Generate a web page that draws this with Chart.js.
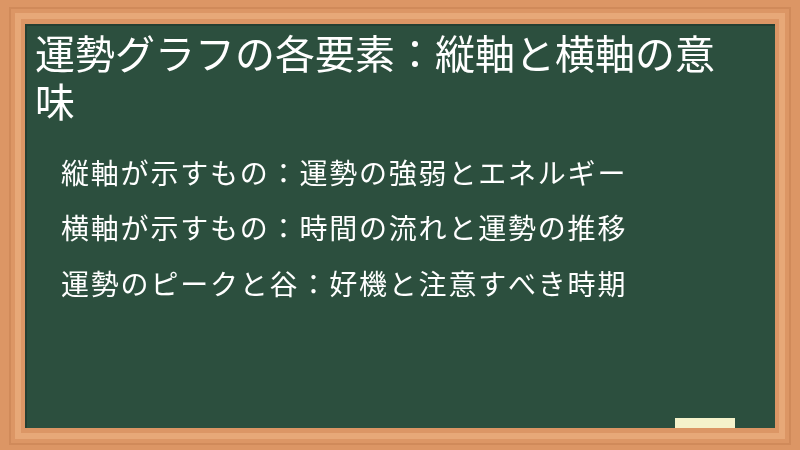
<!DOCTYPE html>
<html>
<head>
<meta charset="utf-8">
<script src="https://cdn.jsdelivr.net/npm/chart.js@4/dist/chart.umd.min.js"></script>
<style>
  html, body { margin: 0; padding: 0; background: #dc9665; }
  #wrap { width: 800px; height: 450px; }
</style>
</head>
<body>
<div id="wrap"><canvas id="board"></canvas></div>
<script>
const titleLines = ["運勢グラフの各要素：縦軸と横軸の意", "味"];
const bulletLines = [
  "縦軸が示すもの：運勢の強弱とエネルギー",
  "横軸が示すもの：時間の流れと運勢の推移",
  "運勢のピークと谷：好機と注意すべき時期"
];

const FONT = "'Noto Sans CJK JP', 'Noto Sans', sans-serif";

// chalkboard frame + board + the list of points
const boardPlugin = {
  id: 'boardPlugin',
  beforeDraw(chart) {
    const ctx = chart.ctx;
    const W = chart.width, H = chart.height;
    ctx.save();
    // wooden frame
    ctx.fillStyle = '#dc9665';
    ctx.fillRect(0, 0, W, H);
    ctx.strokeStyle = '#e7a878';
    ctx.lineWidth = 6;
    ctx.strokeRect(18, 16, W - 36, H - 30);
    ctx.strokeStyle = '#d08a5a';
    ctx.lineWidth = 2;
    ctx.strokeRect(10, 8, W - 20, H - 14);
    // board
    ctx.fillStyle = '#2c4f3e';
    ctx.fillRect(26, 24, 749, 404);
    ctx.strokeStyle = '#243f32';
    ctx.lineWidth = 2;
    ctx.beginPath();
    ctx.moveTo(26, 428); ctx.lineTo(26, 25); ctx.lineTo(775, 25);
    ctx.stroke();
    // chalk
    ctx.fillStyle = '#f5f2cb';
    ctx.fillRect(675, 418, 60, 10);
    ctx.restore();
  },
  afterDraw(chart) {
    const ctx = chart.ctx;
    ctx.save();
    ctx.fillStyle = '#ffffff';
    ctx.font = '28px ' + FONT;
    ctx.letterSpacing = '1.8px';
    ctx.textBaseline = 'middle';
    ctx.textAlign = 'left';
    bulletLines.forEach((t, i) => {
      ctx.fillText(t, 61, 173 + i * 55.5);
    });
    ctx.restore();
  }
};

new Chart(document.getElementById('board'), {
  type: 'bar',
  data: { labels: [], datasets: [{ data: [] }] },
  options: {
    responsive: true,
    maintainAspectRatio: false,
    animation: false,
    layout: { padding: { top: 24, left: 35, right: 20, bottom: 24 } },
    scales: { x: { display: false }, y: { display: false } },
    plugins: {
      legend: { display: false },
      tooltip: { enabled: false },
      title: {
        display: true,
        text: titleLines,
        align: 'start',
        color: '#ffffff',
        font: { family: FONT, size: 40, weight: 'normal', lineHeight: 1.2 },
        padding: { top: 6, bottom: 0 }
      }
    }
  },
  plugins: [boardPlugin]
});
</script>
</body>
</html>
